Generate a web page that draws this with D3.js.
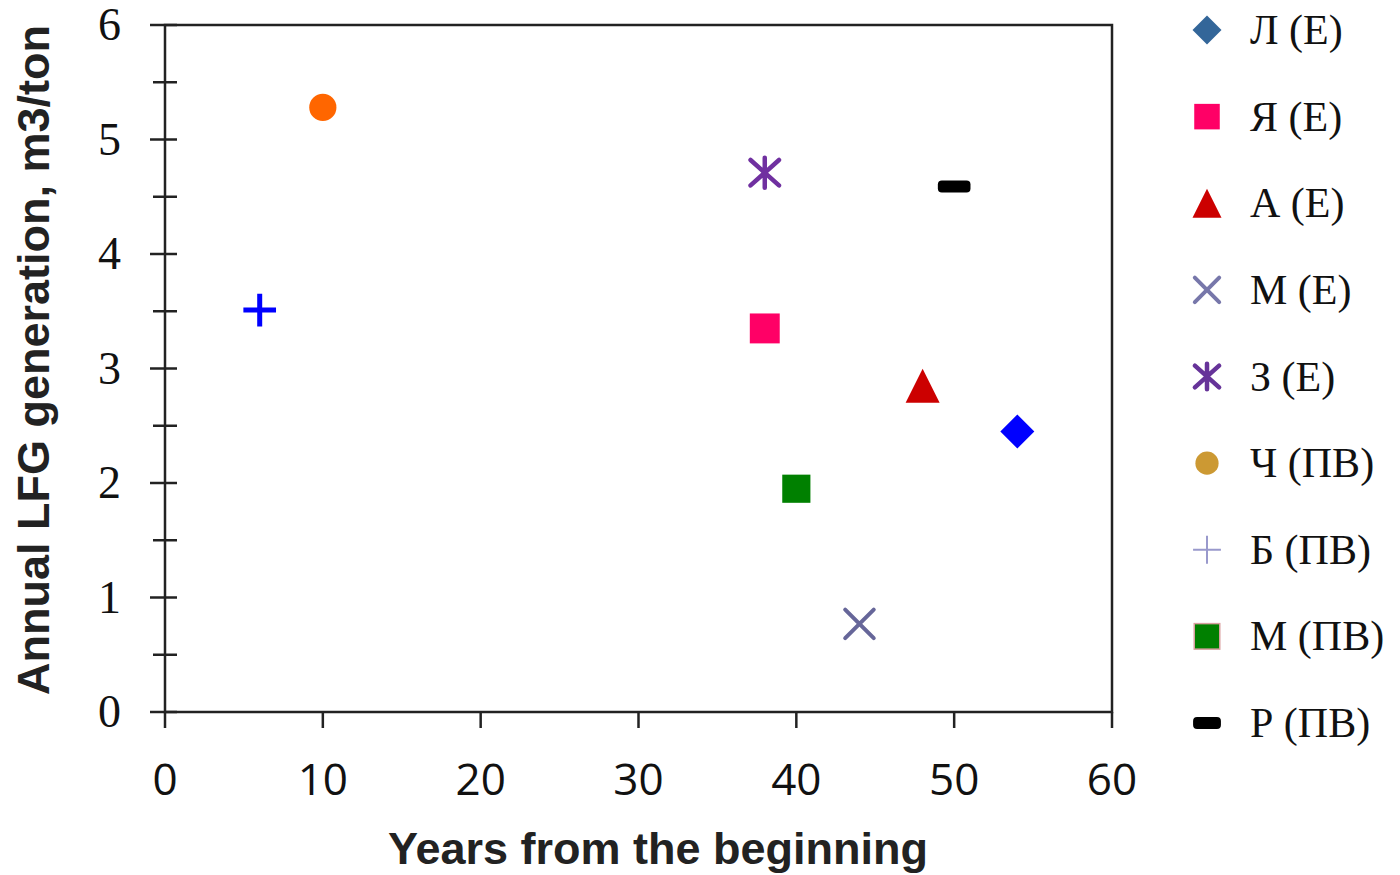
<!DOCTYPE html>
<html>
<head>
<meta charset="utf-8">
<script src="https://cdn.jsdelivr.net/npm/d3@7"></script>
<style>
  html, body { margin: 0; padding: 0; background: #ffffff; }
</style>
</head>
<body>
<div id="chart"></div>
<script>
const names = ['Л (Е)', 'Я (Е)', 'А (Е)', 'М (Е)', 'З (Е)', 'Ч (ПВ)', 'Б (ПВ)', 'М (ПВ)', 'Р (ПВ)']
const years = [54, 38, 48, 44, 38, 10, 6, 40, 50]
const lfg = [2.45, 3.35, 2.85, 0.77, 4.71, 5.28, 3.51, 1.95, 4.59]
const shapes = ['diamond', 'square', 'triangle', 'x', 'star', 'circle', 'plus', 'square', 'dash']
const plotColors = ['#0000ff', '#ff0066', '#cc0000', '#666699', '#7030a0', '#ff6600', '#0000ff', '#008000', '#000000']
const legendColors = ['#336699', '#ff0066', '#cc0000', '#7777aa', '#663399', '#cc9933', '#9999cc', '#008000', '#000000']

const xTicks = [0, 10, 20, 30, 40, 50, 60]
const yTicks = [0, 1, 2, 3, 4, 5, 6]

const W = 1400
const H = 875

const x = d3.scaleLinear().domain([0, 60]).range([165, 1112])
const y = d3.scaleLinear().domain([0, 6]).range([712, 25])

const svg = d3.select('#chart').append('svg').attr('width', W).attr('height', H)

svg.append('rect').attr('width', W).attr('height', H).attr('fill', '#ffffff')

// frame
svg
  .append('rect')
  .attr('x', x(0))
  .attr('y', y(6))
  .attr('width', x(60) - x(0))
  .attr('height', y(0) - y(6))
  .attr('fill', 'none')
  .attr('stroke', '#222222')
  .attr('stroke-width', 2.5)

// y ticks cross the axis, majors a bit longer
d3.range(0, 6.01, 0.5).forEach((v) => {
  const major = Math.abs(v - Math.round(v)) < 1e-6
  svg
    .append('line')
    .attr('x1', major ? 150 : 153)
    .attr('x2', 177)
    .attr('y1', y(v))
    .attr('y2', y(v))
    .attr('stroke', '#222222')
    .attr('stroke-width', 2.5)
})

xTicks.forEach((v) => {
  svg
    .append('line')
    .attr('x1', x(v))
    .attr('x2', x(v))
    .attr('y1', y(0))
    .attr('y2', y(0) + 16)
    .attr('stroke', '#222222')
    .attr('stroke-width', 2.5)
})

svg
  .selectAll('.ylab')
  .data(yTicks)
  .join('text')
  .attr('x', 121)
  .attr('y', (d) => y(d) + 15)
  .attr('text-anchor', 'end')
  .attr('font-family', 'Liberation Serif')
  .attr('font-size', 46)
  .attr('fill', '#111111')
  .text((d) => d)

svg
  .selectAll('.xlab')
  .data(xTicks)
  .join('text')
  .attr('x', (d) => x(d))
  .attr('y', 795)
  .attr('text-anchor', 'middle')
  .attr('font-family', 'Open Sans')
  .attr('font-size', 44)
  .attr('fill', '#111111')
  .text((d) => d)

svg
  .append('text')
  .attr('x', 658)
  .attr('y', 864)
  .attr('text-anchor', 'middle')
  .attr('font-family', 'Liberation Sans')
  .attr('font-weight', 'bold')
  .attr('font-size', 45)
  .attr('fill', '#222222')
  .text('Years from the beginning')

svg
  .append('text')
  .attr('transform', `translate(49 360) rotate(-90)`)
  .attr('text-anchor', 'middle')
  .attr('font-family', 'Liberation Sans')
  .attr('font-weight', 'bold')
  .attr('font-size', 45)
  .attr('fill', '#222222')
  .text('Annual LFG generation, m3/ton')

// marker drawing; s is the overall size in px
const drawMarker = (g, shape, color, s, thin) => {
  const h = s / 2
  if (shape === 'diamond') {
    g.append('path').attr('d', `M0,${-h}L${h},0L0,${h}L${-h},0Z`).attr('fill', color)
  } else if (shape === 'square') {
    const r = s * 0.44
    g.append('rect')
      .attr('x', -r)
      .attr('y', -r)
      .attr('width', 2 * r)
      .attr('height', 2 * r)
      .attr('fill', color)
  } else if (shape === 'triangle') {
    g.append('path').attr('d', `M0,${-h}L${h},${h}L${-h},${h}Z`).attr('fill', color)
  } else if (shape === 'circle') {
    g.append('circle').attr('r', s * 0.4).attr('fill', color)
  } else if (shape === 'x') {
    const r = s * 0.42
    g.append('path')
      .attr('d', `M${-r},${-r}L${r},${r}M${r},${-r}L${-r},${r}`)
      .attr('stroke', color)
      .attr('stroke-width', 4)
      .attr('stroke-linecap', 'round')
  } else if (shape === 'star') {
    const r = s * 0.44
    const rx = r * 0.95
    const ry = r * 0.85
    g.append('path')
      .attr('d', `M0,${-r}L0,${r}M${-rx},${-ry}L${rx},${ry}M${rx},${-ry}L${-rx},${ry}`)
      .attr('stroke', color)
      .attr('stroke-width', 4.5)
      .attr('stroke-linecap', 'round')
  } else if (shape === 'plus') {
    const r = s * 0.48
    g.append('path')
      .attr('d', `M${-r},0L${r},0M0,${-r}L0,${r}`)
      .attr('stroke', color)
      .attr('stroke-width', thin ? 2 : 5)
  } else if (shape === 'dash') {
    g.append('rect')
      .attr('x', -s * 0.48)
      .attr('y', -6)
      .attr('width', s * 0.96)
      .attr('height', 12)
      .attr('rx', 4)
      .attr('fill', color)
  }
}

names.forEach((name, i) => {
  const g = svg.append('g').attr('transform', `translate(${x(years[i])} ${y(lfg[i])})`)
  const size = i === 7 ? 32 : 34
  drawMarker(g, shapes[i], plotColors[i], size, false)
})

// legend
const legendY = d3.scaleLinear().domain([0, names.length - 1]).range([30, 723])

names.forEach((name, i) => {
  const g = svg.append('g').attr('transform', `translate(1207 ${legendY(i)})`)
  drawMarker(g, shapes[i], legendColors[i], 29, true)
  if (i === 7) {
    g.select('rect').attr('stroke', '#d9a0a0').attr('stroke-width', 1.5)
  }
  svg
    .append('text')
    .attr('x', 1250)
    .attr('y', legendY(i) + 14)
    .attr('font-family', 'Liberation Serif')
    .attr('font-size', 42)
    .attr('fill', '#111111')
    .text(name)
})
</script>
</body>
</html>
